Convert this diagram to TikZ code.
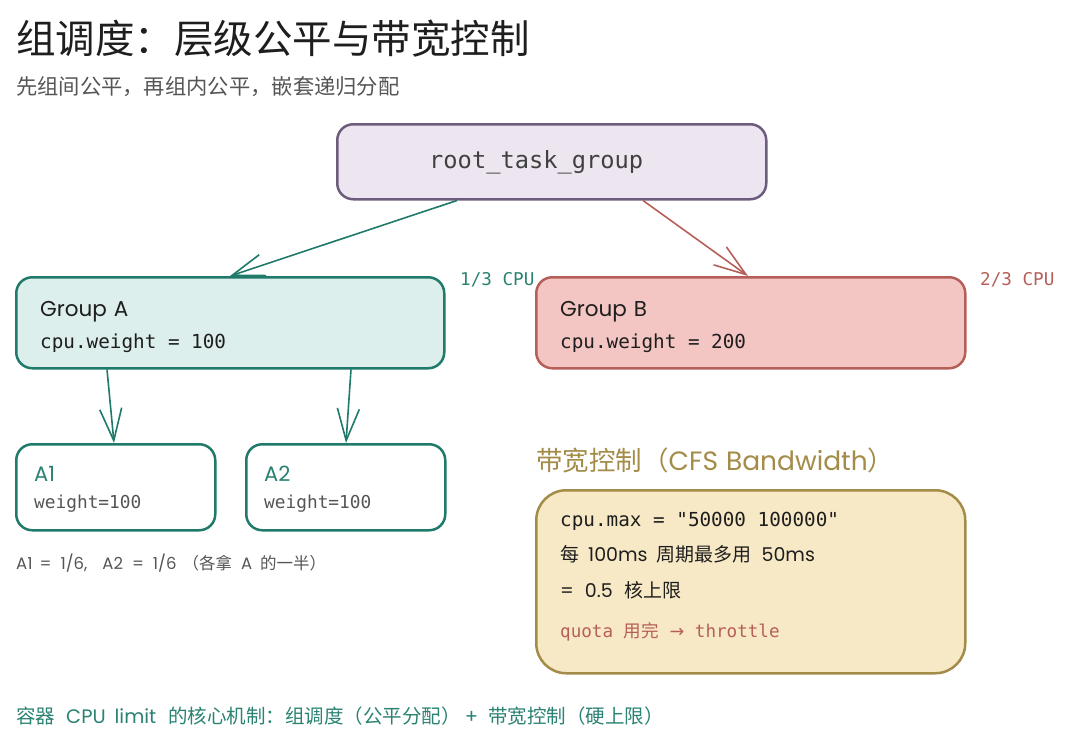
\documentclass[tikz,border=0pt]{standalone}
\usepackage{fontspec}
\setmainfont{Noto Sans CJK SC}
\setmonofont{DejaVu Sans Mono}
\newfontfamily\cjkf{Noto Sans CJK SC}
\newfontfamily\symf{DejaVu Sans}
\newfontfamily\hand{Poppins}
\usetikzlibrary{arrows.meta,calc}
\definecolor{tealB}{HTML}{1F7A6A}
\definecolor{tealT}{HTML}{2A8272}
\definecolor{tealF}{HTML}{DCEFEC}
\definecolor{purB}{HTML}{6E5C7C}
\definecolor{purF}{HTML}{EDE6F0}
\definecolor{redB}{HTML}{B65F59}
\definecolor{redF}{HTML}{F4C6C3}
\definecolor{goldB}{HTML}{A38B48}
\definecolor{goldF}{HTML}{F7E9C6}
\definecolor{ink}{HTML}{1E1E1E}
\definecolor{grayT}{HTML}{555555}
\newcommand{\gap}[1]{\hspace*{#1pt}}
\begin{document}
\begin{tikzpicture}[x=1pt,y=-1pt,
  box/.style={draw,line width=2.5pt,rounded corners=16pt,anchor=north west,inner sep=0pt},
  txt/.style={anchor=base west,inner sep=0pt},
  conn/.style={line width=1.6pt,-{Straight Barb[length=32pt,width=22pt]}}]
\useasboundingbox (0,0) rectangle (1080,745);
% title
\node[txt,text=ink,font=\fontsize{39.5}{42}\selectfont] (title) at (16,53) {组调度：层级公平与带宽控制};
\node[txt,text=grayT,font=\fontsize{21.3}{24}\selectfont] (sub) at (16,94) {先组间公平，再组内公平，嵌套递归分配};
% boxes
\node[box,draw=purB,fill=purF,minimum width=429pt,minimum height=75pt] (root) at (336,123) {};
\node[box,draw=tealB,fill=tealF,minimum width=428pt,minimum height=91pt] (GA) at (15,276) {};
\node[box,draw=redB,fill=redF,minimum width=429pt,minimum height=91pt] (GB) at (535,276) {};
\node[box,draw=tealB,fill=white,minimum width=199pt,minimum height=86pt] (A1) at (15,443) {};
\node[box,draw=tealB,fill=white,minimum width=199pt,minimum height=86pt] (A2) at (245,443) {};
\node[box,draw=goldB,fill=goldF,minimum width=429pt,minimum height=183pt,rounded corners=30pt] (BW) at (535,489) {};
% texts in boxes
\node[txt,text=ink!85,font=\ttfamily\fontsize{23.7}{26}\selectfont] (roott) at (429,168) {root\_task\_group};
\node[txt,text=ink,font=\hand\fontsize{21.5}{24}\selectfont] (gat) at (40,316) {Group\gap{7}A};
\node[txt,text=ink,font=\ttfamily\fontsize{19.3}{22}\selectfont] (gaw) at (40,348) {cpu.weight = 100};
\node[txt,text=ink,font=\hand\fontsize{21.5}{24}\selectfont] (gbt) at (560,316) {Group\gap{7}B};
\node[txt,text=ink,font=\ttfamily\fontsize{19.3}{22}\selectfont] (gbw) at (560,348) {cpu.weight = 200};
\node[txt,text=tealT,font=\hand\fontsize{21}{24}\selectfont] (a1t) at (34,481) {A1};
\node[txt,text=grayT,font=\ttfamily\fontsize{17.8}{20}\selectfont] (a1w) at (34,508) {weight=100};
\node[txt,text=tealT,font=\hand\fontsize{21}{24}\selectfont] (a2t) at (264,481) {A2};
\node[txt,text=grayT,font=\ttfamily\fontsize{17.8}{20}\selectfont] (a2w) at (264,508) {weight=100};
% side labels
\node[txt,text=tealT,font=\ttfamily\fontsize{17.6}{20}\selectfont] (l13) at (460,285) {1/3 CPU};
\node[txt,text=redB,font=\ttfamily\fontsize{17.6}{20}\selectfont] (l23) at (980,285) {2/3 CPU};
\node[txt,text=grayT,font=\fontsize{16.5}{18}\selectfont] (share) at (16,569) {{\hand A1\gap{7}=\gap{9}1/6,\gap{15}A2\gap{9}=\gap{9}1/6}\gap{6}（各拿\gap{9}{\hand A}\gap{8}的一半）};
% bandwidth
\node[txt,text=goldB,font=\fontsize{26.5}{28}\selectfont] (bwt) at (536,470) {带宽控制（{\hand CFS\gap{8}Bandwidth}）};
\node[txt,text=ink,font=\ttfamily\fontsize{19.3}{22}\selectfont] (bw1) at (560,526) {cpu.max = "50000 100000"};
\node[txt,text=ink,font=\fontsize{19}{22}\selectfont] (bw2) at (560,561) {每\gap{9}{\hand 100ms}\gap{9}周期最多用\gap{10}{\hand 50ms}};
\node[txt,text=ink,font=\fontsize{19}{22}\selectfont] (bw3) at (560,597) {{\hand =\gap{11}0.5}\gap{12}核上限};
\node[txt,text=redB,font=\ttfamily\fontsize{17.6}{20}\selectfont] (bw4) at (560,637) {quota {\cjkf 用完} {\symf →} throttle};
% footer
\node[txt,text=tealT,font=\fontsize{19.5}{22}\selectfont] (foot) at (16,723) {容器\gap{11}{\hand CPU\gap{9}limit}\gap{12}的核心机制：组调度（公平分配）{\hand\gap{4}+\gap{10}}带宽控制（硬上限）};
% connectors
\draw[conn,tealB] ($(root.south west)+(121,0)$) -- ($(GA.north west)+(215,0)$);
\draw[conn,redB] ($(root.south west)+(307,0)$) -- ($(GB.north west)+(213,0)$);
\draw[conn,tealB] ($(GA.south west)+(92,0)$) -- ($(A1.north west)+(99,0)$);
\draw[conn,tealB] ($(GA.south west)+(336,0)$) -- ($(A2.north west)+(101,0)$);
\end{tikzpicture}
\end{document}
